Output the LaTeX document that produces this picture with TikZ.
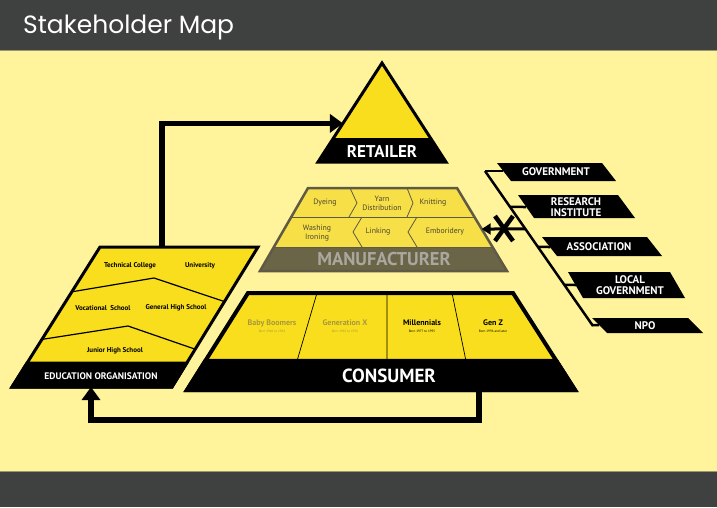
\documentclass[tikz,border=0pt]{standalone}
\usepackage{fontspec}
\setmainfont{PT Sans}
\newfontfamily\titlefont{Poppins}
\usetikzlibrary{arrows.meta,calc}

\definecolor{barGrey}{HTML}{3F4040}
\definecolor{barEdge}{HTML}{9C9670}
\definecolor{paleYellow}{HTML}{FFF49B}
\definecolor{mapYellow}{HTML}{F9DE1D}
\definecolor{mfgYellow}{HTML}{F7DF48}
\definecolor{mfgOlive}{HTML}{6B6547}
\definecolor{mfgEdge}{HTML}{5F5A45}
\definecolor{mfgText}{HTML}{4A4630}
\definecolor{mfgLabel}{HTML}{A9A79E}
\definecolor{fadedText}{HTML}{A8983E}

\begin{document}
\begin{tikzpicture}[x=1pt, y=-1pt,
        flow/.style={line width=5.5pt, -{Triangle[length=13pt, width=18pt]}},
        thinflow/.style={line width=3pt, -{Triangle[length=9pt, width=11pt]}},
        outline/.style={draw=black, line width=3pt, line join=miter},
        bandlab/.style={text=white, font=\bfseries\fontsize{17}{17}\selectfont},
        boxlab/.style={text=white, font=\bfseries\fontsize{11}{10.5}\selectfont, align=center},
        edulab/.style={font=\bfseries\fontsize{7}{7}\selectfont},
        mfglab/.style={text=mfgText, font=\fontsize{7.8}{8.8}\selectfont, align=center},
        genlab/.style={font=\bfseries\fontsize{8}{8}\selectfont},
        bornlab/.style={font=\fontsize{3.3}{3.3}\selectfont}
    ]

    % page
    \useasboundingbox (0,0) rectangle (717,507);
    \fill[paleYellow] (0,0) rectangle (717,507);
    \fill[barGrey] (0,0) rectangle (717,50);
    \fill[barGrey] (0,472) rectangle (717,507);
    \draw[barEdge, line width=1pt] (0,50.5) -- (717,50.5);
    \draw[barEdge, line width=1pt] (0,471.5) -- (717,471.5);
    \node[anchor=base west, inner sep=0pt, text=white, font=\titlefont\fontsize{25}{25}\selectfont] (title) at (23,33) {Stakeholder Map};

    % coordinates
    \coordinate (ret-top) at (382,63);
    \coordinate (ret-bl)  at (318,162);
    \coordinate (ret-br)  at (446,162);

    \coordinate (mfg-tl) at (308,188);
    \coordinate (mfg-tr) at (457,188);
    \coordinate (mfg-br) at (507,271);
    \coordinate (mfg-bl) at (260,271);

    \coordinate (edu-tl) at (100,247);
    \coordinate (edu-tr) at (258,247);
    \coordinate (edu-br) at (172,387);
    \coordinate (edu-bl) at (12,387);

    \coordinate (con-tl) at (248,293);
    \coordinate (con-tr) at (513,293);
    \coordinate (con-br) at (575,390);
    \coordinate (con-bl) at (187,390);

    \coordinate (br-top) at (485,171);
    \coordinate (br-bot) at (593,326);

    \coordinate (edu-up)  at (162,247);
    \coordinate (ret-in)  at ($(ret-top)!0.61!(ret-bl)$);
    \coordinate (con-out) at (479,390);
    \coordinate (loop-r)  at (479,420);
    \coordinate (edu-in)  at (91,387);

    % arrows behind the blocks
    \draw[flow] (edu-up) |- (ret-in);
    \draw[flow] (con-out) -- (loop-r) -| (edu-in);

    % retailer
    \draw[fill=mapYellow, outline] (ret-top) -- (ret-br) -- (ret-bl) -- cycle;
    \fill ($(ret-top)!0.76!(ret-bl)$) -- ($(ret-top)!0.76!(ret-br)$) -- (ret-br) -- (ret-bl) -- cycle;
    \node[bandlab] (retailer) at (382,151) {RETAILER};

    % manufacturer
    \fill[mfgOlive] (mfg-tl) -- (mfg-tr) -- (mfg-br) -- (mfg-bl) -- cycle;
    \fill[mfgYellow] (mfg-tl) -- (mfg-tr) -- ($(mfg-tr)!0.71!(mfg-br)$) -- ($(mfg-tl)!0.71!(mfg-bl)$) -- cycle;
    \draw[mfgEdge, line width=0.8pt] ($(mfg-tl)!0.35!(mfg-bl)$) -- ($(mfg-tr)!0.35!(mfg-br)$)
        ($(mfg-tl)!0.71!(mfg-bl)$) -- ($(mfg-tr)!0.71!(mfg-br)$);
    \draw[mfgEdge, line width=0.8pt] (350,188) -- (357,203) -- (349,217)
        (407,188) -- (413,203) -- (407,217)
        (362,217) -- (353,232) -- (362,247)
        (417,217) -- (408,232) -- (417,247);
    \draw[mfgEdge, line width=2.5pt, line join=miter] (mfg-tl) -- (mfg-tr) -- (mfg-br) -- (mfg-bl) -- cycle;

    \node[mfglab] (dyeing)   at (325,203) {Dyeing};
    \node[mfglab] (yarn)     at (382,203) {Yarn\\Distribution};
    \node[mfglab] (knitting) at (433,203) {Knitting};
    \node[mfglab] (washing)  at (317,233) {Washing\\Ironing};
    \node[mfglab] (linking)  at (378,232) {Linking};
    \node[mfglab] (embroid)  at (445,232) {Emboridery};
    \node[bandlab, text=mfgLabel, font=\bfseries\fontsize{18.5}{18.5}\selectfont] (manufacturer) at (384,259) {MANUFACTURER};

    % education organisation
    \draw[fill=mapYellow, outline] (edu-tl) -- (edu-tr) -- (edu-br) -- (edu-bl) -- cycle;
    \fill[draw=black, line width=3pt, line join=miter] ($(edu-tl)!0.83!(edu-bl)$) -- ($(edu-tr)!0.83!(edu-br)$) -- (edu-br) -- (edu-bl) -- cycle;
    \draw[line width=1.2pt] ($(edu-tl)!0.32!(edu-bl)$) -- (154,278) -- ($(edu-tr)!0.39!(edu-br)$);
    \draw[line width=1.2pt] ($(edu-tl)!0.66!(edu-bl)$) -- (128,326) -- ($(edu-tr)!0.73!(edu-br)$);

    \node[edulab] (technical)  at (130,266) {Technical College};
    \node[edulab] (university) at (200,266) {University};
    \node[edulab] (vocational) at (103,308) {Vocational~~School};
    \node[edulab] (general)    at (176,308) {General High School};
    \node[edulab] (junior)     at (115,351) {Junior High School};
    \node[boxlab, font=\bfseries\fontsize{9.5}{10}\selectfont] (education) at (101,376) {EDUCATION ORGANISATION};

    % consumer
    \draw[fill=mapYellow, outline, line width=4pt] (con-tl) -- (con-tr) -- (con-br) -- (con-bl) -- cycle;
    \fill[draw=black, line width=4pt, line join=miter] ($(con-tl)!0.70!(con-bl)$) -- ($(con-tr)!0.70!(con-br)$) -- (con-br) -- (con-bl) -- cycle;
    \draw[line width=0.7pt] (317,293) -- (297,361)
        (387,293) -- (387,361)
        (452,293) -- (466,361);

    \node[genlab, text=fadedText] (boomers) at (272,323) {Baby Boomers};
    \node[bornlab, text=fadedText] (boomers-born) at (272,331) {Born 1946 to 1964};
    \node[genlab, text=fadedText] (genx) at (345,323) {Generation X};
    \node[bornlab, text=fadedText] (genx-born) at (345,331) {Born 1965 to 1976};
    \node[genlab] (millennials) at (422,323) {Millennials};
    \node[bornlab] (millennials-born) at (422,331) {Born 1977 to 1995};
    \node[genlab] (genz) at (493,323) {Gen Z};
    \node[bornlab] (genz-born) at (493,331) {Born 1996 and later};
    \node[bandlab, font=\bfseries\fontsize{19}{19}\selectfont] (consumer) at (389,376) {CONSUMER};

    % other stakeholders
    \fill (497,163) -- (602,163) -- (616,181) -- (511,181) -- cycle;
    \fill (518,195) -- (618,195) -- (635,218) -- (534,218) -- cycle;
    \fill (542,237) -- (647,237) -- (662,256) -- (557,256) -- cycle;
    \fill (568,272) -- (670,272) -- (685,298) -- (583,298) -- cycle;
    \fill (592,318) -- (688,318) -- (703,333) -- (607,333) -- cycle;

    \node[boxlab] (government) at (556,172) {GOVERNMENT};
    \node[boxlab] (research)   at (576,207) {RESEARCH\\INSTITUTE};
    \node[boxlab] (association) at (599,247) {ASSOCIATION};
    \node[boxlab] (localgov)   at (630,285) {LOCAL\\GOVERNMENT};
    \node[boxlab] (npo)        at (645,326) {NPO};

    \coordinate (gov-in) at (503,171);
    \coordinate (res-in) at (526,207);
    \coordinate (ass-in) at (550,247);
    \coordinate (loc-in) at (576,285);
    \coordinate (npo-in) at (599,325);

    % bracket and ticks
    \draw[line width=2.5pt] (br-top) -- (br-bot);
    \draw[line width=2.5pt] (br-top) -- (gov-in);
    \draw[line width=2.5pt] ($(br-top)!0.232!(br-bot)$) -- (res-in);
    \draw[line width=2.5pt] ($(br-top)!0.49!(br-bot)$) -- (ass-in);
    \draw[line width=2.5pt] ($(br-top)!0.735!(br-bot)$) -- (loc-in);
    \draw[line width=2.5pt] ($(br-top)!0.994!(br-bot)$) -- (npo-in);

    % blocked link to manufacturer
    \coordinate (x-start) at ($(br-top)!0.374!(br-bot)$);
    \coordinate (mfg-in)  at ($(mfg-tr)!0.494!(mfg-br)$);
    \draw[thinflow] (x-start) -- (mfg-in);
    \draw[line width=4.5pt] (495,216) -- (513,241) (513,216) -- (495,241);
\end{tikzpicture}
\end{document}
